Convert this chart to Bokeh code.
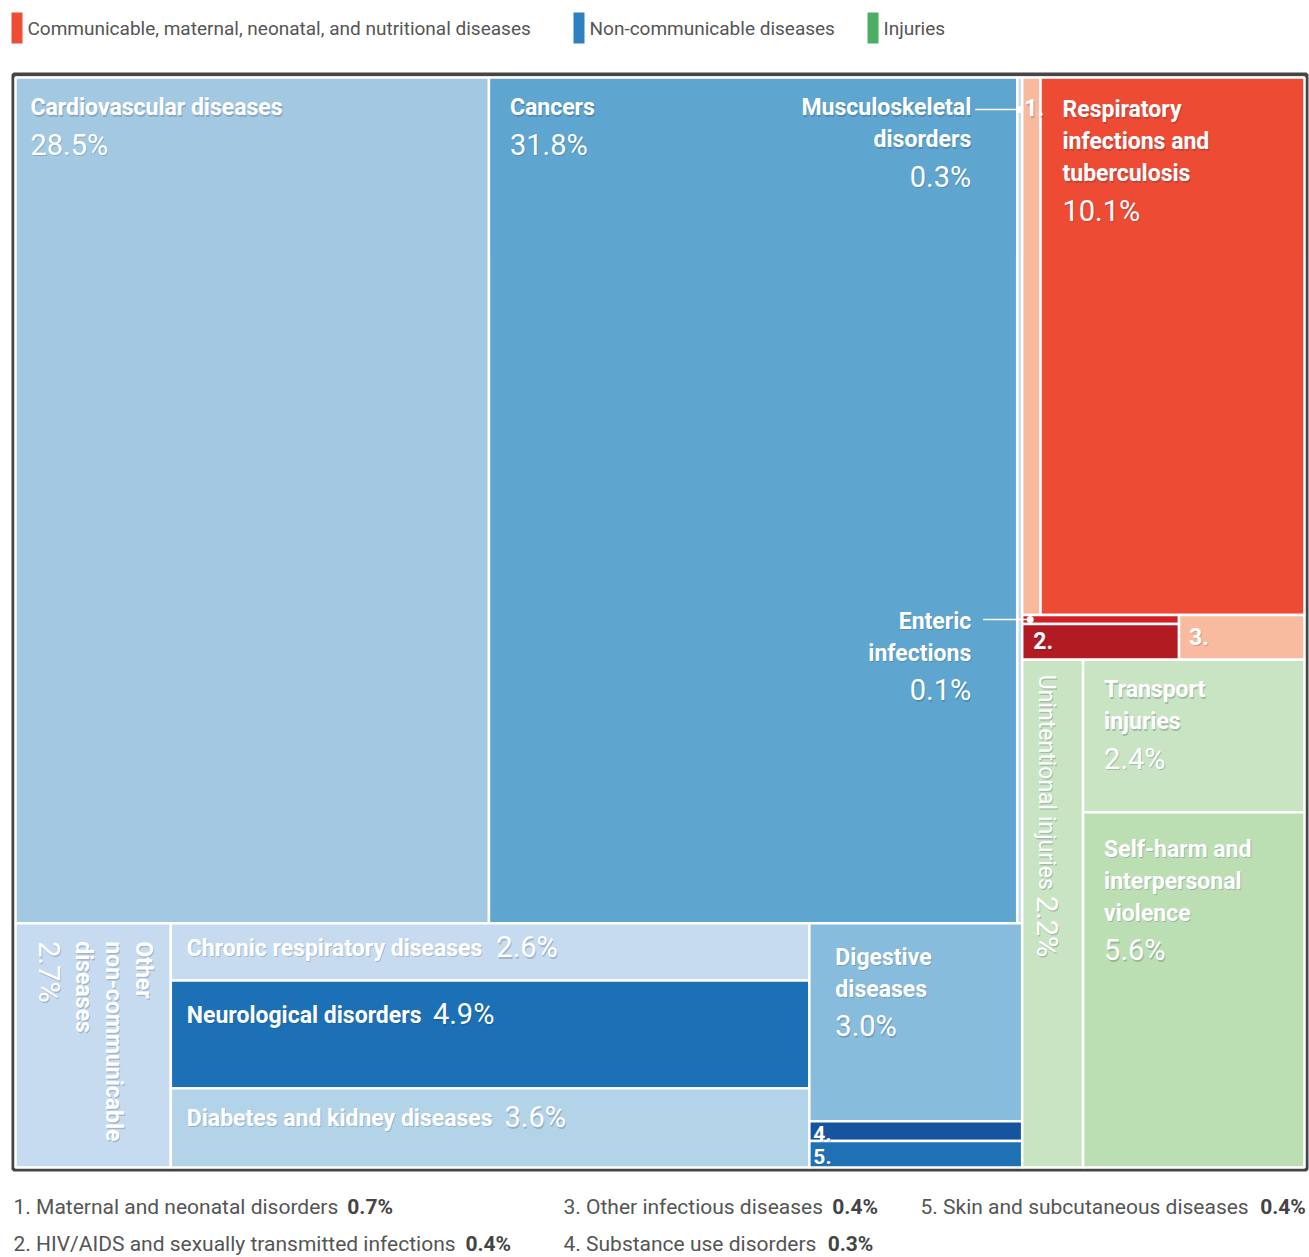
import math
from bokeh.plotting import figure
from bokeh.models import Range1d, ColumnDataSource
from bokeh.embed import file_html
from bokeh.resources import INLINE
from bokeh.core.properties import value

# ------------------------------------------------------------------ data
categories = [
    "Cardiovascular diseases", "Cancers", "Musculoskeletal disorders",
    "Other non-communicable diseases", "Chronic respiratory diseases",
    "Neurological disorders", "Diabetes and kidney diseases",
    "Digestive diseases", "Substance use disorders",
    "Skin and subcutaneous diseases",
    "Maternal and neonatal disorders", "Respiratory infections and tuberculosis",
    "Enteric infections", "HIV/AIDS and sexually transmitted infections",
    "Other infectious diseases",
    "Unintentional injuries", "Transport injuries",
    "Self-harm and interpersonal violence",
]
values = [28.5, 31.8, 0.3, 2.7, 2.6, 4.9, 3.6, 3.0, 0.3, 0.4,
          0.7, 10.1, 0.1, 0.4, 0.4,
          2.2, 2.4, 5.6]
groups = ["ncd"] * 10 + ["cmnn"] * 5 + ["inj"] * 3
tile_colors = ["#a3c9e2", "#5ea5d0", "#c6dcef", "#c6dbef", "#c6dbef",
               "#1c70b6", "#b3d3e8", "#88bcdc", "#17549f", "#2071b4",
               "#f9b99c", "#ee4b35", "#d32027", "#b31b23", "#f9bb9f",
               "#c8e4c2", "#c8e4c2", "#bbdeb3"]
display_labels = {
    "Cardiovascular diseases": ["Cardiovascular diseases"],
    "Cancers": ["Cancers"],
    "Musculoskeletal disorders": ["Musculoskeletal", "disorders"],
    "Respiratory infections and tuberculosis": ["Respiratory", "infections and", "tuberculosis"],
    "Enteric infections": ["Enteric", "infections"],
    "Transport injuries": ["Transport", "injuries"],
    "Self-harm and interpersonal violence": ["Self-harm and", "interpersonal", "violence"],
    "Digestive diseases": ["Digestive", "diseases"],
    "Chronic respiratory diseases": ["Chronic respiratory diseases"],
    "Neurological disorders": ["Neurological disorders"],
    "Diabetes and kidney diseases": ["Diabetes and kidney diseases"],
    "Other non-communicable diseases": ["Other", "non-communicable", "diseases"],
    "Unintentional injuries": ["Unintentional injuries"],
}
footnote_cats = ["Maternal and neonatal disorders",
                 "HIV/AIDS and sexually transmitted infections",
                 "Other infectious diseases", "Substance use disorders",
                 "Skin and subcutaneous diseases"]
legend_names = ["Communicable, maternal, neonatal, and nutritional diseases",
                "Non-communicable diseases", "Injuries"]
legend_colors = ["#ee4c35", "#2f80c1", "#4cae62"]

# treemap structure (slice direction per node, leaves are category names)
tree = ("h", [
    ("v", [("h", ["Cardiovascular diseases", "Cancers", "Musculoskeletal disorders"]),
           ("h", ["Other non-communicable diseases",
                  ("v", ["Chronic respiratory diseases", "Neurological disorders",
                         "Diabetes and kidney diseases"]),
                  ("v", ["Digestive diseases", "Substance use disorders",
                         "Skin and subcutaneous diseases"])])]),
    ("v", [("v", [("h", ["Maternal and neonatal disorders",
                         "Respiratory infections and tuberculosis"]),
                  ("h", [("v", ["Enteric infections",
                                "HIV/AIDS and sexually transmitted infections"]),
                         "Other infectious diseases"])]),
           ("h", ["Unintentional injuries",
                  ("v", ["Transport injuries", "Self-harm and interpersonal violence"])])]),
])

# ------------------------------------------------------------------ layout
val = dict(zip(categories, values))
col = dict(zip(categories, tile_colors))


def node_sum(n):
    if isinstance(n, str):
        return val[n]
    return sum(node_sum(k) for k in n[1])


def layout(n, x0, y0, x1, y1, out):
    if isinstance(n, str):
        out[n] = (x0, y0, x1, y1)
        return
    orient, kids = n
    tot = sum(node_sum(k) for k in kids)
    pos = x0 if orient == "h" else y0
    for k in kids:
        f = node_sum(k) / tot
        if orient == "h":
            w = (x1 - x0) * f
            layout(k, pos, y0, pos + w, y1, out)
            pos += w
        else:
            h = (y1 - y0) * f
            layout(k, x0, pos, x1, pos + h, out)
            pos += h


W, H = 1309, 1257
FX0, FY0, FX1, FY1 = 15, 77, 1304, 1167  # treemap area (page px)
rects = {}
layout(tree, FX0, FY0, FX1, FY1, rects)

# text width estimate (Arial-like metrics scaled to Roboto)
_up = dict(zip("ABCDEFGHIJKLMNOPQRSTUVWXYZ",
               [667, 667, 722, 722, 667, 611, 778, 722, 278, 500, 667, 556, 833, 722,
                778, 667, 778, 722, 667, 611, 722, 667, 944, 667, 667, 611]))
_lo = dict(zip("abcdefghijklmnopqrstuvwxyz",
               [556, 556, 500, 556, 556, 278, 556, 556, 222, 222, 500, 222, 833, 556,
                556, 556, 556, 333, 500, 278, 556, 500, 722, 500, 500, 500]))
_upb = dict(zip("ABCDEFGHIJKLMNOPQRSTUVWXYZ",
                [722, 722, 722, 722, 667, 611, 778, 722, 278, 556, 722, 611, 833, 722,
                 778, 667, 778, 722, 667, 611, 722, 667, 944, 667, 667, 611]))
_lob = dict(zip("abcdefghijklmnopqrstuvwxyz",
                [556, 611, 556, 611, 556, 333, 611, 611, 278, 278, 556, 278, 889, 611,
                 611, 611, 611, 389, 556, 333, 611, 556, 778, 556, 556, 500]))
_other = {" ": 260, "%": 800, ".": 270, ",": 230, "-": 300, "/": 420}


def tw(s, size, bold=False):
    t = 0
    for ch in s:
        if ch.isdigit():
            t += 556
        elif ch in _other:
            t += _other[ch]
        elif ch.isupper():
            t += (_upb if bold else _up).get(ch, 667)
        else:
            t += (_lob if bold else _lo).get(ch, 556)
    return t / 1000 * size * (0.96 if bold else 1.0)


FONT = "Roboto"

p = figure(width=W, height=H, output_backend="svg", toolbar_location=None,
           x_range=Range1d(0, W), y_range=Range1d(H, 0),
           x_axis_type=None, y_axis_type=None, min_border=0)
p.grid.visible = False
p.outline_line_color = None
p.background_fill_color = "white"
p.border_fill_color = "white"

# frame
p.quad(left=[FX0 - 2], right=[FX1 + 2], top=[FY0 - 3], bottom=[FY1 + 2],
       fill_color=None, line_color="#454545", line_width=4)

# tiles
src = ColumnDataSource(dict(
    left=[rects[c][0] for c in categories], right=[rects[c][2] for c in categories],
    top=[rects[c][1] for c in categories], bottom=[rects[c][3] for c in categories],
    color=[col[c] for c in categories]))
p.quad(left="left", right="right", top="top", bottom="bottom", source=src,
       fill_color="color", line_color="white", line_width=2.5)


def txt(x, y, s, size, bold=False, align="left", color="white", angle=0.0,
        shadow=False):
    # y is the vertical centre of the text line
    if shadow:
        p.text(x=[x + 1], y=[y + 1.5], text=[s], text_font=value(FONT),
               text_font_size=f"{size}px",
               text_font_style="bold" if bold else "normal", text_color="#1d3448",
               text_alpha=0.22, text_align=align, text_baseline="middle", angle=angle)
    p.text(x=[x], y=[y], text=[s], text_font=value(FONT), text_font_size=f"{size}px",
           text_font_style="bold" if bold else "normal", text_color=color,
           text_align=align, text_baseline="middle", angle=angle)


def wt(x, y, s, size, bold=False, align="left", angle=0.0):
    txt(x, y, s, size, bold=bold, align=align, angle=angle, shadow=True)


LS, PS = 23, 29          # label / percent font size
LH, PG = 32, 37          # line spacing, gap to percent line


def pct(c):
    return f"{val[c]:.1f}%"


# block labels: (dx, dy of first line centre)
blocks = {
    "Cardiovascular diseases": (15, 30),
    "Cancers": (21, 30),
    "Respiratory infections and tuberculosis": (22, 32),
    "Transport injuries": (21, 30),
    "Self-harm and interpersonal violence": (21, 37),
    "Digestive diseases": (26, 34),
}
for c, (dx, dy) in blocks.items():
    x0, y0, x1, y1 = rects[c]
    lines = display_labels[c]
    for i, ln in enumerate(lines):
        wt(x0 + dx, y0 + dy + i * LH, ln, LS, bold=True)
    wt(x0 + dx, y0 + dy + (len(lines) - 1) * LH + PG, pct(c), PS)

# inline labels
inline = {
    "Chronic respiratory diseases": (16, 25),
    "Neurological disorders": (16, 35),
    "Diabetes and kidney diseases": (16, 30),
}
for c, (dx, dy) in inline.items():
    x0, y0, x1, y1 = rects[c]
    s = display_labels[c][0]
    wt(x0 + dx, y0 + dy, s, LS, bold=True)
    wt(x0 + dx + tw(s, LS, True) + 6, y0 + dy - 1, pct(c), PS)

# callout labels in the cancers tile (right aligned)
cx_right = rects["Cancers"][2] - 46
m = "Musculoskeletal disorders"
my = rects[m][1] + 30
for i, ln in enumerate(display_labels[m]):
    wt(cx_right, my + i * LH, ln, LS, bold=True, align="right")
wt(cx_right, my + LH + PG, pct(m), PS, align="right")
mdx = (rects[m][0] + rects[m][2]) / 2
mly = my + 2
p.line(x=[cx_right + 4, mdx], y=[mly, mly], line_color="white", line_width=1.5)
p.scatter(x=[mdx], y=[mly], size=7, fill_color="white", line_color=None)

e = "Enteric infections"
ecy = (rects[e][1] + rects[e][3]) / 2
ey = ecy + 1.5
for i, ln in enumerate(display_labels[e]):
    wt(cx_right, ey + i * LH, ln, LS, bold=True, align="right")
wt(cx_right, ey + LH + PG, pct(e), PS, align="right")
edx = rects[e][0] + 8
p.line(x=[cx_right + 12, edx], y=[ecy, ecy], line_color="white", line_width=1.5)
p.scatter(x=[edx], y=[ecy], size=7, fill_color="white", line_color=None)

# numbered small tiles
for c, s, dx in [("HIV/AIDS and sexually transmitted infections", "2.", 11),
                 ("Other infectious diseases", "3.", 10)]:
    x0, y0, x1, y1 = rects[c]
    wt(x0 + dx, (y0 + y1) / 2 - 1, s, LS, bold=True)
c = "Maternal and neonatal disorders"
wt(rects[c][0] + 2, rects[c][1] + 30, "1.", LS, bold=True)
for c, s in [("Substance use disorders", "4."), ("Skin and subcutaneous diseases", "5.")]:
    x0, y0, x1, y1 = rects[c]
    wt(x0 + 4, (y0 + y1) / 2 + 2, s, 21, bold=True)

# rotated labels (reading top to bottom)
RA = -math.pi / 2
u = "Unintentional injuries"
x0, y0, x1, y1 = rects[u]
s = display_labels[u][0]
wt(x0 + 24, y0 + 15, s, LS, angle=RA)
wt(x0 + 25, y0 + 15 + tw(s, LS) + 8, pct(u), PS, angle=RA)

o = "Other non-communicable diseases"
x0, y0, x1, y1 = rects[o]
for i, ln in enumerate(display_labels[o]):
    wt(x1 - 27 - i * 30, y0 + 18, ln, LS, bold=True, angle=RA)
wt(x1 - 27 - 2 * 30 - 35, y0 + 18, pct(o), PS, angle=RA)

# legend
LEG_X = [11, 573, 867]
for xx, name, cc in zip(LEG_X, legend_names, legend_colors):
    p.quad(left=[xx], right=[xx + 11], top=[12], bottom=[43], fill_color=cc,
           line_color=None)
    txt(xx + 16, 28, name, 19, color="#555555")

# footnotes
FN_X = [13, 13, 563, 563, 920]
FN_Y = [1206, 1243, 1206, 1243, 1206]
for i, c in enumerate(footnote_cats):
    s = f"{i + 1}. {c}"
    txt(FN_X[i], FN_Y[i], s, 21, color="#555555")
    txt(FN_X[i] + tw(s, 21) + 11, FN_Y[i], pct(c), 21, bold=True, color="#444444")

open("out.html", "w").write(file_html(p, INLINE))
